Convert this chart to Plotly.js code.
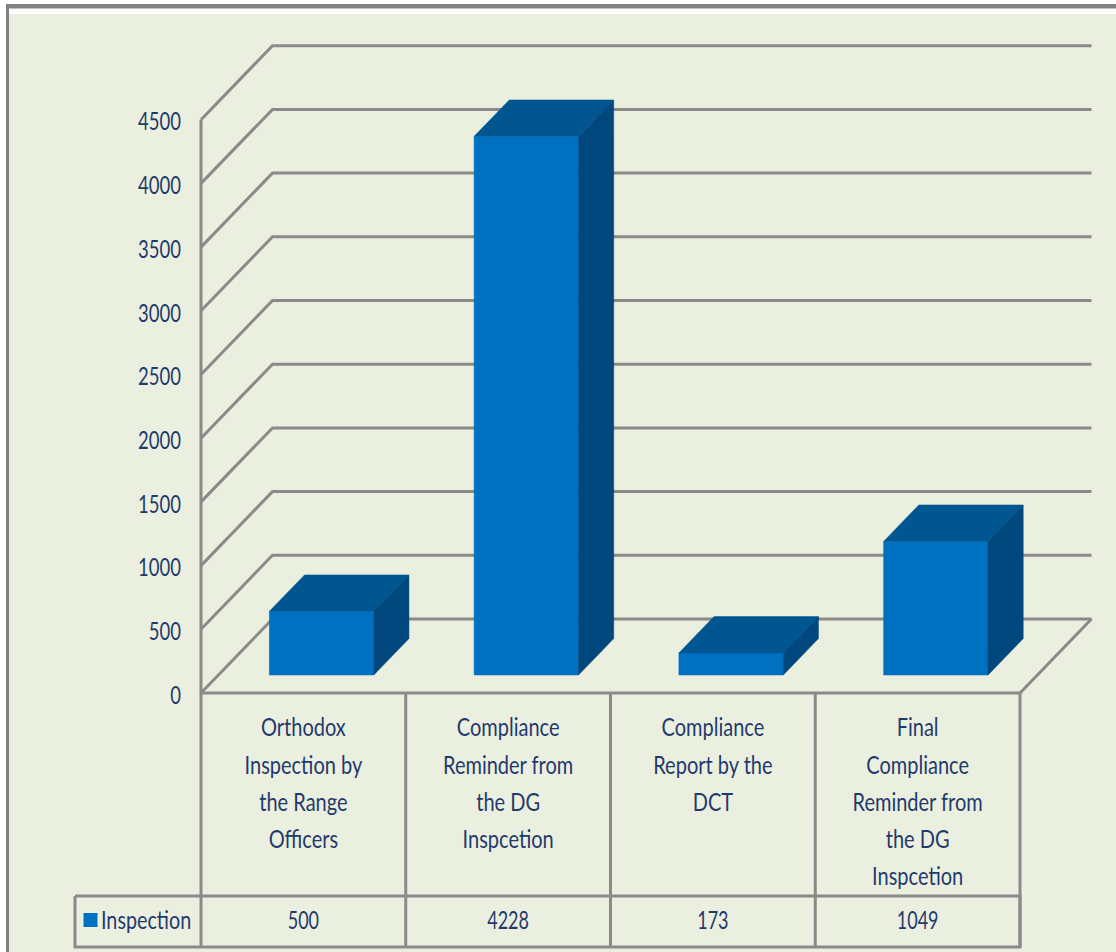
<!DOCTYPE html>
<html>
<head>
<meta charset="utf-8">
<script src="https://cdn.plot.ly/plotly-3.0.1.min.js"></script>
<style>html,body{margin:0;padding:0;background:#fff;overflow:hidden}</style>
</head>
<body>
<div id="chart" style="width:1116px;height:952px"></div>
<script>
const categoryLines = [
  ["Orthodox","Inspection by","the Range","Officers"],
  ["Compliance","Reminder from","the DG","Inspcetion"],
  ["Compliance","Report by the","DCT"],
  ["Final","Compliance","Reminder from","the DG","Inspcetion"]
];
const values = [500, 4228, 173, 1049];
const seriesName = "Inspection";
const tickValues = [0,500,1000,1500,2000,2500,3000,3500,4000,4500];

const W = 1116, H = 952;
const FRONT_X = 201, CAT_W = 204.75, ZERO_Y = 693, PX_PER_UNIT = 63.7/500;
const DEPTH_DX = 71.5, DEPTH_DY = 74;
const BAR_W = 0.51, BAR_SHIFT = 0.004, BAR_D0 = 0.243, BAR_D1 = 0.735;
const TEXT = "#1f3a6b", GRID = "#8a8a8a", FONT = "Lato,'Liberation Sans',sans-serif";
const C_FRONT = "#0070c0", C_TOP = "#005690", C_SIDE = "#00477d";

const pxX = p => (p - FRONT_X) / CAT_W;
const pxY = p => (ZERO_Y - p) / PX_PER_UNIT;
// oblique projection of (category position, value, depth 0..1) into axis units
const proj = (c, v, d) => [c + d * DEPTH_DX / CAT_W, v + d * DEPTH_DY / PX_PER_UNIT];

function poly(points, color) {
  return {type:"scatter", mode:"lines", x:points.map(p=>p[0]), y:points.map(p=>p[1]),
    fill:"toself", fillcolor:color, line:{width:0.5, color:color}, hoverinfo:"skip", showlegend:false};
}

const n = values.length;
const gx = [], gy = [];
function seg(pts){ pts.forEach(p=>{gx.push(p[0]);gy.push(p[1]);}); gx.push(null); gy.push(null); }
tickValues.forEach(v => seg([proj(0,v,0), proj(0,v,1), proj(n,v,1)]));
seg([proj(0,tickValues[tickValues.length-1],0), proj(0,0,0), proj(n,0,0), proj(n,0,1)]);

const TABLE_TOP = pxY(896), TABLE_BOT = pxY(947), TABLE_LEFT = pxX(75);
const ROW_TEXT_Y = pxY(921), SWATCH_Y = pxY(920);
seg([[TABLE_LEFT,TABLE_TOP],[n,TABLE_TOP],[n,TABLE_BOT],[TABLE_LEFT,TABLE_BOT],[TABLE_LEFT,TABLE_TOP]]);
for (let i=0;i<=n;i++) seg([[i,0],[i,TABLE_BOT]]);

const traces = [{type:"scatter", mode:"lines", x:gx, y:gy, connectgaps:false,
  line:{color:GRID, width:3}, hoverinfo:"skip", showlegend:false}];

values.forEach((v,i) => {
  const l = i + 0.5 - BAR_W/2 + BAR_SHIFT, r = i + 0.5 + BAR_W/2 + BAR_SHIFT;
  traces.push(poly([proj(l,0,BAR_D0),proj(r,0,BAR_D0),proj(r,v,BAR_D0),proj(l,v,BAR_D0),proj(l,0,BAR_D0)], C_FRONT));
  traces.push(poly([proj(l,v,BAR_D0),proj(r,v,BAR_D0),proj(r,v,BAR_D1),proj(l,v,BAR_D1),proj(l,v,BAR_D0)], C_TOP));
  traces.push(poly([proj(r,0,BAR_D0),proj(r,0,BAR_D1),proj(r,v,BAR_D1),proj(r,v,BAR_D0),proj(r,0,BAR_D0)], C_SIDE));
});

traces.push({type:"scatter", mode:"text", x:values.map((_,i)=>i+0.5), y:values.map(()=>ROW_TEXT_Y),
  text:values.map(String), textposition:"middle center",
  textfont:{family:FONT,size:25,color:TEXT}, hoverinfo:"skip", showlegend:false});
traces.push({type:"scatter", mode:"markers", x:[pxX(90.5)], y:[SWATCH_Y],
  marker:{symbol:"square",size:14,color:C_FRONT,line:{width:0}}, hoverinfo:"skip", showlegend:false});
traces.push({type:"scatter", mode:"text", x:[pxX(101)], y:[ROW_TEXT_Y], text:[seriesName],
  textposition:"middle right", textfont:{family:FONT,size:25,color:TEXT}, hoverinfo:"skip", showlegend:false});

const layout = {
  width:W, height:H, margin:{l:0,r:0,t:0,b:0}, showlegend:false,
  paper_bgcolor:"#ffffff", plot_bgcolor:"#ebefdf",
  xaxis:{range:[pxX(0),pxX(W)], anchor:"free", position:(H-ZERO_Y)/H, showgrid:false, zeroline:false, showline:false,
    tickmode:"array", tickvals:categoryLines.map((_,i)=>i+0.5),
    ticktext:categoryLines.map(ls=>ls.map(s=>`<span style="font-size:25px">${s}</span>`).join("<br>")),
    ticks:"", ticklabelstandoff:14, tickangle:0, tickfont:{family:FONT,size:28.5,color:TEXT}},
  yaxis:{range:[pxY(H),pxY(0)], anchor:"free", position:FRONT_X/W, showgrid:false, zeroline:false, showline:false,
    tickmode:"array", tickvals:tickValues, ticktext:tickValues.map(String),
    ticks:"", ticklabelstandoff:20, tickfont:{family:FONT,size:25,color:TEXT}},
  shapes:[
    {type:"rect",xref:"paper",yref:"paper",layer:"below",x0:0,x1:1,y0:1-14/H,y1:1,fillcolor:"#ffffff",line:{width:0}},
    {type:"rect",xref:"paper",yref:"paper",layer:"below",x0:0,x1:9/W,y0:0,y1:1,fillcolor:"#ffffff",line:{width:0}},
    {type:"rect",xref:"paper",yref:"paper",layer:"below",x0:6/W,x1:1,y0:1-8.5/H,y1:1-4/H,fillcolor:"#808080",line:{width:0}},
    {type:"rect",xref:"paper",yref:"paper",layer:"below",x0:6/W,x1:9/W,y0:0,y1:1-4/H,fillcolor:"#808080",line:{width:0}}
  ]
};

// The reference's lettering is narrow: squeeze each label horizontally about its own anchor.
function squeeze(el, s, dy) {
  const b = el.getBBox();
  const a = el.getAttribute("text-anchor") || el.style.textAnchor || "start";
  const ox = a === "middle" ? b.x + b.width/2 : a === "end" ? b.x + b.width : b.x;
  const t = el.getAttribute("transform") || "";
  el.setAttribute("transform", `${t} translate(${ox},${dy||0}) scale(${s},1) translate(${-ox},0)`.trim());
}
Plotly.newPlot("chart", traces, layout, {displayModeBar:false, staticPlot:true}).then(gd => {
  gd.querySelectorAll(".ytick text").forEach(e => squeeze(e, 0.74, 2));
  gd.querySelectorAll(".xtick text").forEach(e => squeeze(e, 0.80, 0));
  gd.querySelectorAll(".textpoint text").forEach(e => squeeze(e, /^\d+$/.test(e.textContent) ? 0.72 : 0.79, 2));
});
</script>
</body>
</html>
